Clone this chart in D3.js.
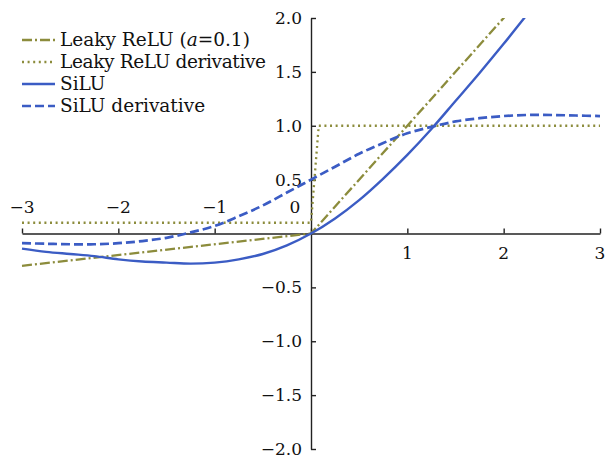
<!DOCTYPE html>
<html>
<head>
<meta charset="utf-8">
<script src="https://d3js.org/d3.v7.min.js"></script>
<style>
body { margin: 0; background: #fff; }
text { font-family: "DejaVu Serif", serif; fill: #111; }
</style>
</head>
<body>
<script>
// values
var xVals = [-3, -2.75, -2.5, -2.25, -2, -1.75, -1.5, -1.25, -1, -0.75, -0.5, -0.25,
             0, 0.25, 0.5, 0.75, 1, 1.25, 1.5, 1.75, 2, 2.25, 2.5, 2.75, 3];
var siluVals = [-0.14, -0.17, -0.19, -0.21, -0.24, -0.26, -0.27, -0.28, -0.27, -0.24, -0.19, -0.11,
                0, 0.14, 0.31, 0.51, 0.73, 0.97, 1.23, 1.49, 1.76, 2.04, 2.31, 2.58, 2.86];
var siluDerivVals = [-0.09, -0.095, -0.10, -0.10, -0.09, -0.07, -0.04, 0.01, 0.07, 0.16, 0.26, 0.38,
                     0.5, 0.62, 0.74, 0.84, 0.93, 0.99, 1.04, 1.07, 1.09, 1.10, 1.10, 1.095, 1.09];
var leakyX = [-3, 0, 3];
var leakyVals = [-0.3, 0, 3];
var leakyDerivX = [-3, 0, 0.08, 3];
var leakyDerivVals = [0.1, 0.1, 1, 1];

var xTicks = [-3, -2, -1, 0, 1, 2, 3];
var yTicks = [-2, -1.5, -1, -0.5, 0, 0.5, 1, 1.5, 2];
var legendLabels = ["Leaky ReLU", "Leaky ReLU derivative", "SiLU", "SiLU derivative"];

var width = 612, height = 458;
var olive = "#8c8c3c", blue = "#3b5cc4";

var svg = d3.select("body").append("svg")
  .attr("width", width).attr("height", height);

var x = d3.scaleLinear().domain([-3, 3]).range([22, 600]);
var y = d3.scaleLinear().domain([-2, 2]).range([449, 18]);

svg.append("clipPath").attr("id", "plot")
  .append("rect").attr("x", 0).attr("y", y(2)).attr("width", width).attr("height", y(-2) - y(2));

// axes through the origin
svg.append("g")
  .attr("transform", "translate(0," + y(0) + ")")
  .call(d3.axisBottom(x).tickValues(xTicks).tickSize(-5).tickSizeOuter(0).tickFormat(""));
svg.append("g")
  .attr("transform", "translate(" + x(0) + ",0)")
  .call(d3.axisLeft(y).tickValues(yTicks.filter(function(d){ return d != 0; })).tickSize(-5).tickSizeOuter(0).tickFormat(""));
svg.selectAll(".domain").attr("stroke", "#222").attr("stroke-width", 1.4);
svg.selectAll(".tick line").attr("stroke", "#222").attr("stroke-width", 1.4);

// tick labels
svg.append("g").selectAll("text")
  .data(xTicks.filter(function(d){ return d != 0; }))
  .enter().append("text")
  .attr("x", function(d){ return x(d); })
  .attr("y", function(d){ return d < 0 ? y(0) - 21 : y(0) + 25; })
  .attr("text-anchor", "middle")
  .attr("font-size", 17)
  .text(function(d){ return d < 0 ? "\u2212" + Math.abs(d) : d; });
svg.append("text")
  .attr("x", x(0) - 16).attr("y", y(0) - 21)
  .attr("text-anchor", "middle").attr("font-size", 17).text("0");
svg.append("g").selectAll("text")
  .data(yTicks.filter(function(d){ return d != 0; }))
  .enter().append("text")
  .attr("x", x(0) - 9)
  .attr("y", function(d){ return y(d) + 6; })
  .attr("text-anchor", "end")
  .attr("font-size", 17)
  .text(function(d){ return (d < 0 ? "\u2212" : "") + Math.abs(d).toFixed(1); });

// curves
var line = d3.line()
  .x(function(d){ return x(d[0]); })
  .y(function(d){ return y(d[1]); });
var smooth = d3.line()
  .x(function(d){ return x(d[0]); })
  .y(function(d){ return y(d[1]); })
  .curve(d3.curveCatmullRom);

var series = [
  { pts: d3.zip(leakyX, leakyVals), gen: line, color: olive, dash: "10,3,2,3", w: 2.3 },
  { pts: d3.zip(leakyDerivX, leakyDerivVals), gen: line, color: olive, dash: "2,3.6", w: 2.3 },
  { pts: d3.zip(xVals, siluVals), gen: smooth, color: blue, dash: null, w: 2.4 },
  { pts: d3.zip(xVals, siluDerivVals), gen: smooth, color: blue, dash: "9,4", w: 2.7 }
];

svg.append("g").attr("clip-path", "url(#plot)")
  .selectAll("path").data(series).enter().append("path")
  .attr("d", function(d){ return d.gen(d.pts); })
  .attr("fill", "none")
  .attr("stroke", function(d){ return d.color; })
  .attr("stroke-width", function(d){ return d.w; })
  .attr("stroke-dasharray", function(d){ return d.dash; });

// legend
var leg = svg.append("g").selectAll("g").data(series).enter().append("g")
  .attr("transform", function(d, i){ return "translate(22," + (40 + i * 22) + ")"; });
leg.append("line")
  .attr("x1", 0).attr("x2", 33).attr("y1", 0).attr("y2", 0)
  .attr("stroke", function(d){ return d.color; })
  .attr("stroke-width", function(d){ return d.w; })
  .attr("stroke-dasharray", function(d){ return d.dash; });
var lt = leg.append("text")
  .attr("x", 38).attr("y", 6)
  .attr("font-size", 18.5)
  .attr("textLength", function(d, i){ return i == 1 ? 206 : null; })
  .text(function(d, i){ return legendLabels[i]; });
lt.filter(function(d, i){ return i == 0; }).each(function(){
  var t = d3.select(this);
  t.append("tspan").text(" (");
  t.append("tspan").attr("font-style", "italic").text("a");
  t.append("tspan").text("=0.1)");
});
</script>
</body>
</html>
